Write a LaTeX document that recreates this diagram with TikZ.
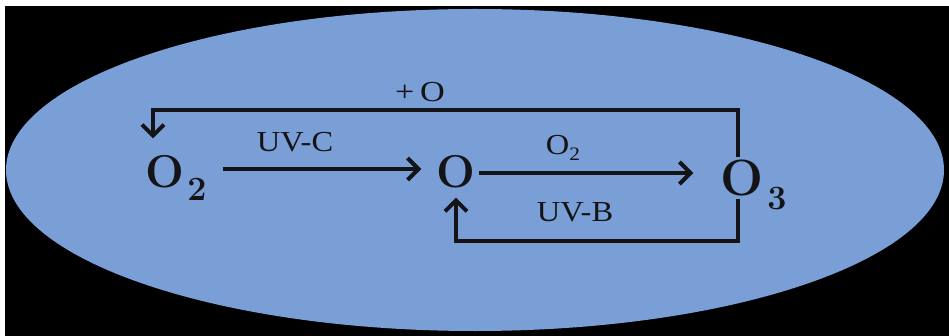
\documentclass[tikz,border=0pt]{standalone}
\usepackage{fontspec}
\usepackage{graphicx}
\usetikzlibrary{arrows.meta}
\newfontfamily\lblfont{Liberation Serif}
\definecolor{bgblue}{RGB}{122,158,214}
\definecolor{ink}{RGB}{20,20,22}
\begin{document}
\begin{tikzpicture}[x=1pt,y=-1pt,
  chem/.style={inner sep=0pt, text=ink, font=\bfseries\fontsize{46}{46}\selectfont},
  chembig/.style={inner sep=0pt, text=ink, font=\bfseries\fontsize{51}{51}\selectfont},
  subs/.style={inner sep=0pt, text=ink, font=\bfseries\fontsize{34}{34}\selectfont},
  lbl/.style={inner sep=0pt, text=ink, font=\lblfont\fontsize{29}{29}\selectfont},
  conn/.style={line width=4pt, draw=ink, -{Straight Barb[length=11pt,width=22pt,line width=4pt]}}]
\fill[white] (0,0) rectangle (949,336);
\fill[black] (5,6) rectangle (949,336);
\fill[bgblue] (475,170) ellipse [x radius=469, y radius=161];
% species
\node[chem] (O2) at (165,172) {O};
\node[subs] (s2) at (197,189) {2};
\node[chem] (Om) at (456,172) {O};
\node[chembig] (O3) at (742,178) {O};
\node[subs] (s3) at (777,199) {3};
% labels
\node[lbl] (plusO) at (420,92) {\scalebox{1.18}[1]{+\,O}};
\node[lbl] (uvc) at (295,142) {\scalebox{1.12}[1]{UV-C}};
\node[lbl] (o2l) at (563,148) {\scalebox{1.12}[1]{O\raisebox{-6pt}{\fontsize{19}{19}\selectfont 2}}};
\node[lbl] (uvb) at (575,212) {\scalebox{1.12}[1]{UV-B}};
% connectors
\draw[conn] ([xshift=38pt,yshift=3pt]O2.east) -- ([xshift=-15pt,yshift=3pt]Om.west);
\draw[conn] ([xshift=3pt,yshift=-1pt]Om.east) -- ([xshift=-27pt,yshift=5pt]O3.west);
\draw[conn] ([xshift=-4pt,yshift=3pt]O3.north) -- ++(0,-47) -| ([xshift=-12pt,yshift=17pt]O2.north);
\draw[conn] ([xshift=-4pt,yshift=-3pt]O3.south) -- ++(0,42) -| ([yshift=-9pt]Om.south);
\end{tikzpicture}
\end{document}
